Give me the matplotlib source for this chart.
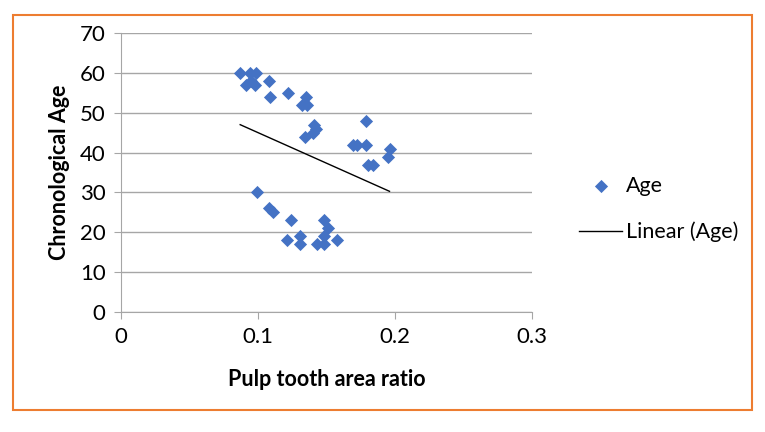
import numpy as np
import matplotlib.pyplot as plt
from matplotlib.patches import Rectangle

# pulp/tooth area ratio vs chronological age
ratio = [0.087, 0.094, 0.0985, 0.091, 0.098, 0.095, 0.108, 0.109, 0.122, 0.135, 0.132, 0.136,
         0.141, 0.142, 0.140, 0.134, 0.179, 0.169, 0.172, 0.179, 0.180, 0.184, 0.196, 0.195,
         0.099, 0.108, 0.111, 0.124, 0.121, 0.131, 0.131, 0.148, 0.151, 0.148, 0.143, 0.148, 0.158]
age = [60, 60, 60, 57, 57, 58, 58, 54, 55, 54, 52, 52,
       47, 46, 45, 44, 48, 42, 42, 42, 37, 37, 41, 39,
       30, 26, 25, 23, 18, 19, 17, 23, 21, 19, 17, 17, 18]

x_ticks = [0, 0.1, 0.2, 0.3]
x_labels = ["0", "0.1", "0.2", "0.3"]
y_ticks = [0, 10, 20, 30, 40, 50, 60, 70]

plt.rcParams['font.family'] = ['Lato', 'DejaVu Sans']

fig = plt.figure(figsize=(7.65, 4.32), dpi=100)
ax = fig.add_axes([121 / 765, 1 - 312 / 432, (532 - 121) / 765, (312 - 33) / 432])

ax.scatter(ratio, age, marker='D', s=45, color='#4472C4', zorder=3, label='Age', linewidths=0)

slope, icpt = np.polyfit(ratio, age, 1)
xs = np.array([min(ratio), max(ratio)])
ax.plot(xs, slope * xs + icpt, color='black', lw=1, label='Linear (Age)', zorder=2)

ax.set_xlim(0, 0.3)
ax.set_ylim(0, 70)
ax.set_xticks(x_ticks)
ax.set_xticklabels(x_labels)
ax.set_yticks(y_ticks)
ax.grid(axis='y', color='#A6A6A6', lw=1)
ax.set_axisbelow(True)
for s in ['top', 'right']:
    ax.spines[s].set_visible(False)
ax.spines['left'].set_color('#A6A6A6')
ax.spines['bottom'].set_color('#A6A6A6')
ax.tick_params(length=5, color='#A6A6A6', labelsize=16, pad=6)
ax.set_xlabel('Pulp tooth area ratio', fontsize=15.5, fontweight='bold', labelpad=16)
ax.set_ylabel('Chronological Age', fontsize=15.5, fontweight='bold', labelpad=7)

fig.legend(loc='center left', bbox_to_anchor=(560 / 765, 1 - 209 / 432), frameon=False,
           fontsize=15.5, handlelength=2.0, handletextpad=0.15, labelspacing=1.2)

fig.patches.append(Rectangle((13 / 765, 1 - 410 / 432), 739 / 765, 395 / 432,
                             transform=fig.transFigure, fill=False, edgecolor='#ED7D31', lw=1.5))

fig.savefig('out.png', dpi=100)
